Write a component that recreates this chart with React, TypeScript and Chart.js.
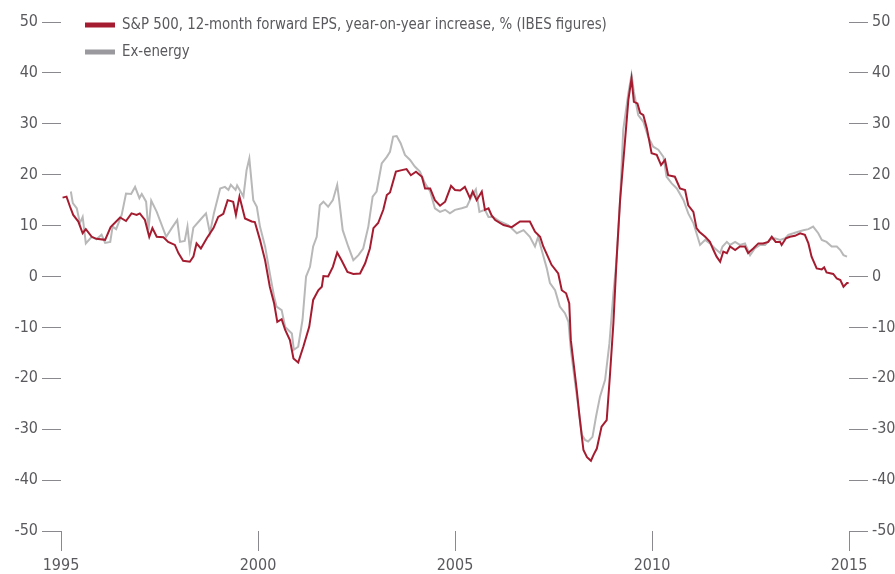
import React, { useEffect, useRef } from "react";
import { Chart, registerables } from "chart.js";

Chart.register(...registerables);

const FONT = "'Liberation Sans Narrow', 'Arial Narrow', 'DejaVu Sans Condensed', 'Roboto', sans-serif";

const seriesLabels = [
  "S&P 500, 12-month forward EPS, year-on-year increase, % (IBES figures)",
  "Ex-energy",
];

const xTicks = [1995, 2000, 2005, 2010, 2015];
const yTicks = [-50, -40, -30, -20, -10, 0, 10, 20, 30, 40, 50];

const redDates = [
  1995.04, 1995.14, 1995.23, 1995.31, 1995.44, 1995.55, 1995.63, 1995.78, 1995.9, 1996.12,
  1996.26, 1996.5, 1996.65, 1996.79, 1996.92, 1997.0, 1997.13, 1997.24, 1997.32, 1997.43,
  1997.6, 1997.72, 1997.89, 1997.98, 1998.1, 1998.27, 1998.36, 1998.44, 1998.55, 1998.7,
  1998.87, 1998.99, 1999.12, 1999.23, 1999.37, 1999.44, 1999.53, 1999.67, 1999.84, 1999.92,
  2000.05, 2000.18, 2000.3, 2000.41, 2000.49, 2000.6, 2000.69, 2000.81, 2000.9, 2001.02,
  2001.15, 2001.3, 2001.4, 2001.53, 2001.62, 2001.66, 2001.78, 2001.9, 2002.01, 2002.12,
  2002.27, 2002.42, 2002.59, 2002.72, 2002.84, 2002.93, 2003.05, 2003.18, 2003.27, 2003.35,
  2003.5, 2003.65, 2003.77, 2003.88, 2004.01, 2004.16, 2004.24, 2004.37, 2004.49, 2004.62,
  2004.75, 2004.9, 2005.0, 2005.13, 2005.25, 2005.38, 2005.45, 2005.55, 2005.68, 2005.76,
  2005.85, 2005.93, 2006.02, 2006.23, 2006.44, 2006.65, 2006.9, 2007.03, 2007.16, 2007.24,
  2007.34, 2007.45, 2007.62, 2007.71, 2007.82, 2007.9, 2007.94, 2008.02, 2008.09, 2008.16,
  2008.22, 2008.26, 2008.35, 2008.45, 2008.52, 2008.6, 2008.72, 2008.85, 2008.93, 2009.02,
  2009.1, 2009.19, 2009.31, 2009.4, 2009.48, 2009.54, 2009.63, 2009.7, 2009.78, 2009.87,
  2009.99, 2010.12, 2010.23, 2010.33, 2010.41, 2010.58, 2010.71, 2010.84, 2010.92, 2011.05,
  2011.13, 2011.2, 2011.35, 2011.47, 2011.56, 2011.64, 2011.73, 2011.81, 2011.9, 2011.98,
  2012.11, 2012.23, 2012.36, 2012.44, 2012.57, 2012.7, 2012.82, 2012.95, 2013.04, 2013.14,
  2013.25, 2013.29, 2013.4, 2013.5, 2013.63, 2013.76, 2013.88, 2013.97, 2014.05, 2014.18,
  2014.31, 2014.37, 2014.43, 2014.6, 2014.69, 2014.78, 2014.86, 2014.95, 2014.99,
];
const redValues = [
  15.5, 15.7, 13.7, 12.1, 10.8, 8.5, 9.3, 7.8, 7.4, 7.2,
  9.7, 11.6, 10.9, 12.4, 12.1, 12.4, 11.1, 7.8, 9.5, 7.8,
  7.7, 6.8, 6.2, 4.6, 3.1, 2.9, 3.9, 6.5, 5.5, 7.5,
  9.5, 11.7, 12.3, 15.0, 14.7, 12.1, 15.7, 11.4, 10.8, 10.7,
  7.2, 3.2, -2.0, -5.3, -8.9, -8.4, -10.5, -12.5, -16.1, -16.9,
  -13.8, -9.9, -4.6, -2.7, -2.0, 0.1, 0.0, 1.9, 4.7, 3.2,
  0.9, 0.5, 0.6, 2.6, 5.5, 9.5, 10.5, 13.1, 16.0, 16.5,
  20.6, 20.9, 21.1, 19.9, 20.6, 19.6, 17.3, 17.3, 15.0, 13.9,
  14.7, 17.8, 17.0, 16.9, 17.6, 15.4, 16.7, 15.0, 16.7, 13.1,
  13.4, 12.0, 11.1, 10.1, 9.7, 10.8, 10.8, 8.8, 7.8, 5.9,
  4.2, 2.3, 0.6, -2.7, -3.3, -5.3, -12.5, -17.7, -22.3, -27.5,
  -31.5, -34.1, -35.5, -36.2, -35.0, -33.8, -29.5, -28.2, -19.7, -9.2,
  3.2, 15.0, 26.2, 34.7, 38.9, 34.3, 34.0, 32.1, 31.7, 29.1,
  24.2, 23.9, 21.9, 22.9, 19.9, 19.6, 17.3, 17.0, 14.0, 12.7,
  9.5, 8.8, 7.8, 6.8, 5.2, 3.9, 2.9, 4.9, 4.6, 5.9,
  5.2, 5.9, 5.9, 4.6, 5.5, 6.5, 6.5, 6.8, 7.8, 6.8,
  6.8, 6.2, 7.5, 7.8, 8.0, 8.5, 8.2, 6.5, 3.9, 1.6,
  1.4, 1.8, 0.8, 0.5, -0.4, -0.7, -2.0, -1.3, -1.3,
];

const greyDates = [
  1995.25, 1995.3, 1995.4, 1995.48, 1995.55, 1995.63, 1995.78, 1995.9, 1996.03, 1996.12,
  1996.25, 1996.31, 1996.4, 1996.54, 1996.65, 1996.78, 1996.88, 1996.99, 1997.05, 1997.16,
  1997.22, 1997.29, 1997.43, 1997.67, 1997.81, 1997.95, 1998.02, 1998.14, 1998.21, 1998.27,
  1998.36, 1998.53, 1998.68, 1998.78, 1998.88, 1999.04, 1999.16, 1999.25, 1999.31, 1999.43,
  1999.47, 1999.63, 1999.71, 1999.78, 1999.88, 1999.97, 2000.05, 2000.18, 2000.3, 2000.41,
  2000.47, 2000.6, 2000.69, 2000.86, 2000.91, 2001.02, 2001.13, 2001.22, 2001.32, 2001.4,
  2001.49, 2001.57, 2001.66, 2001.78, 2001.9, 2002.01, 2002.06, 2002.15, 2002.29, 2002.42,
  2002.55, 2002.67, 2002.8, 2002.91, 2003.01, 2003.14, 2003.27, 2003.35, 2003.43, 2003.52,
  2003.62, 2003.73, 2003.86, 2003.98, 2004.11, 2004.24, 2004.37, 2004.49, 2004.62, 2004.75,
  2004.87, 2005.0, 2005.17, 2005.3, 2005.42, 2005.53, 2005.62, 2005.76, 2005.85, 2005.97,
  2006.14, 2006.35, 2006.57, 2006.74, 2006.9, 2007.03, 2007.11, 2007.2, 2007.33, 2007.41,
  2007.54, 2007.66, 2007.79, 2007.88, 2007.94, 2008.05, 2008.13, 2008.22, 2008.3, 2008.38,
  2008.49, 2008.58, 2008.68, 2008.81, 2008.92, 2009.02, 2009.1, 2009.19, 2009.27, 2009.4,
  2009.48, 2009.54, 2009.65, 2009.78, 2009.9, 2010.03, 2010.16, 2010.29, 2010.37, 2010.5,
  2010.63, 2010.8, 2010.92, 2011.05, 2011.13, 2011.22, 2011.35, 2011.47, 2011.6, 2011.73,
  2011.79, 2011.9, 2011.98, 2012.11, 2012.23, 2012.36, 2012.49, 2012.61, 2012.74, 2012.87,
  2012.99, 2013.12, 2013.25, 2013.38, 2013.46, 2013.59, 2013.71, 2013.84, 2013.97, 2014.09,
  2014.22, 2014.31, 2014.43, 2014.56, 2014.69, 2014.78, 2014.86, 2014.95,
];
const greyValues = [
  16.7, 14.4, 13.4, 10.5, 11.7, 6.5, 7.8, 7.3, 8.2, 6.6,
  6.8, 9.8, 9.3, 12.1, 16.3, 16.2, 17.6, 15.4, 16.2, 14.7,
  9.1, 14.9, 12.7, 7.8, 9.5, 11.1, 6.8, 7.0, 9.8, 5.3,
  9.6, 11.1, 12.4, 8.5, 12.4, 17.3, 17.6, 17.0, 18.0, 17.0,
  17.9, 15.7, 20.9, 23.2, 15.0, 13.7, 9.8, 5.9, 0.6, -4.0,
  -5.9, -6.6, -9.9, -11.2, -14.4, -13.8, -8.5, 0.0, 1.9, 5.9,
  7.8, 14.0, 14.7, 13.7, 15.0, 18.0, 15.0, 9.1, 5.9, 3.2,
  4.2, 5.5, 9.8, 15.7, 16.7, 22.2, 23.5, 24.5, 27.5, 27.6,
  26.2, 23.9, 22.9, 21.6, 20.6, 18.3, 16.7, 13.4, 12.7, 13.1,
  12.4, 13.1, 13.4, 13.7, 15.7, 17.1, 12.7, 13.1, 11.7, 11.7,
  10.8, 10.1, 8.5, 9.1, 7.8, 5.9, 7.8, 5.2, 1.6, -1.3,
  -2.7, -5.9, -7.2, -8.9, -14.4, -21.0, -25.6, -31.1, -32.1, -32.4,
  -31.5, -27.5, -23.6, -20.3, -13.1, -3.3, 3.2, 15.0, 28.8, 36.0,
  39.6, 36.3, 31.7, 30.4, 27.5, 25.5, 24.9, 23.5, 19.6, 18.3,
  17.3, 15.0, 12.4, 10.5, 8.5, 6.2, 7.2, 6.5, 5.5, 4.6,
  5.9, 6.8, 6.2, 6.8, 6.2, 6.5, 4.2, 5.5, 6.2, 6.2,
  7.2, 7.5, 7.2, 7.5, 8.2, 8.5, 8.8, 9.1, 9.3, 9.8,
  8.5, 7.2, 6.8, 5.9, 5.9, 5.2, 4.2, 3.9,
];

const RED = "#a51c30";
const GREY_LINE = "#b8b8b8";
const GREY_SWATCH = "#9a9a9e";
const TEXT = "#5a5a5e";
const TICK = "#8a8a8e";

const legendPlugin = {
  id: "customLegend",
  afterDraw(chart: any) {
    const { ctx, chartArea } = chart;
    const swatches = [RED, GREY_SWATCH];
    ctx.save();
    chart.data.datasets.forEach((ds: any, i: number) => {
      const y = chartArea.top + 3 + i * 27;
      const x = chartArea.left + 24;
      ctx.fillStyle = swatches[i];
      ctx.fillRect(x, y - 2.5, 30, 5);
      ctx.save();
      ctx.translate(x + 37, y);
      ctx.scale(0.9, 1);
      ctx.fillStyle = TEXT;
      ctx.font = `16.5px ${FONT}`;
      ctx.textBaseline = "middle";
      ctx.textAlign = "left";
      ctx.fillText(ds.label, 0, 0);
      ctx.restore();
    });
    ctx.restore();
  },
};

export default function App() {
  const ref = useRef<HTMLCanvasElement | null>(null);

  useEffect(() => {
    if (!ref.current) return;
    const tickFont = { family: FONT, size: 16 };
    const yScaleBase = {
      type: "linear" as const,
      min: -50,
      max: 50,
      afterBuildTicks: (scale: any) => {
        scale.ticks = yTicks.map((v) => ({ value: v }));
      },
      grid: {
        drawOnChartArea: false,
        drawTicks: true,
        tickLength: 19,
        color: TICK,
        tickColor: TICK,
        lineWidth: 1,
      },
      border: { display: false },
      ticks: { color: TEXT, font: tickFont, padding: 4 },
    };
    const chart = new Chart(ref.current, {
      type: "line",
      data: {
        datasets: [
          {
            label: seriesLabels[0],
            data: redDates.map((d, i) => ({ x: d, y: redValues[i] })),
            borderColor: RED,
            backgroundColor: RED,
            borderWidth: 2,
            pointRadius: 0,
            tension: 0,
          },
          {
            label: seriesLabels[1],
            data: greyDates.map((d, i) => ({ x: d, y: greyValues[i] })),
            borderColor: GREY_LINE,
            backgroundColor: GREY_SWATCH,
            borderWidth: 2,
            pointRadius: 0,
            tension: 0,
          },
        ],
      },
      options: {
        animation: false,
        responsive: false,
        maintainAspectRatio: false,
        layout: { padding: { top: 22, left: 0, right: 0, bottom: 0 } },
        plugins: { legend: { display: false }, tooltip: { enabled: false } },
        scales: {
          x: {
            type: "linear",
            position: "bottom",
            min: 1995,
            max: 2015,
            afterBuildTicks: (scale: any) => {
              scale.ticks = xTicks.map((v) => ({ value: v }));
            },
            afterFit: (scale: any) => {
              scale.height = 43;
            },
            grid: {
              drawOnChartArea: false,
              drawTicks: true,
              tickLength: 20,
              color: TICK,
              tickColor: TICK,
            },
            border: { display: false },
            ticks: {
              color: TEXT,
              font: tickFont,
              padding: 5,
              maxRotation: 0,
              callback: (v: any) => String(v),
            },
          },
          y: {
            ...yScaleBase,
            position: "left",
            afterFit: (scale: any) => {
              scale.width = 61;
            },
          },
          y2: {
            ...yScaleBase,
            position: "right",
            afterFit: (scale: any) => {
              scale.width = 46;
            },
          },
        },
      } as any,
      plugins: [legendPlugin],
    });
    return () => chart.destroy();
  }, []);

  return (
    <div style={{ position: "fixed", left: 0, top: 0, width: 895, height: 574, background: "#fff" }}>
      <canvas ref={ref} width={895} height={574} style={{ width: 895, height: 574 }} />
    </div>
  );
}
